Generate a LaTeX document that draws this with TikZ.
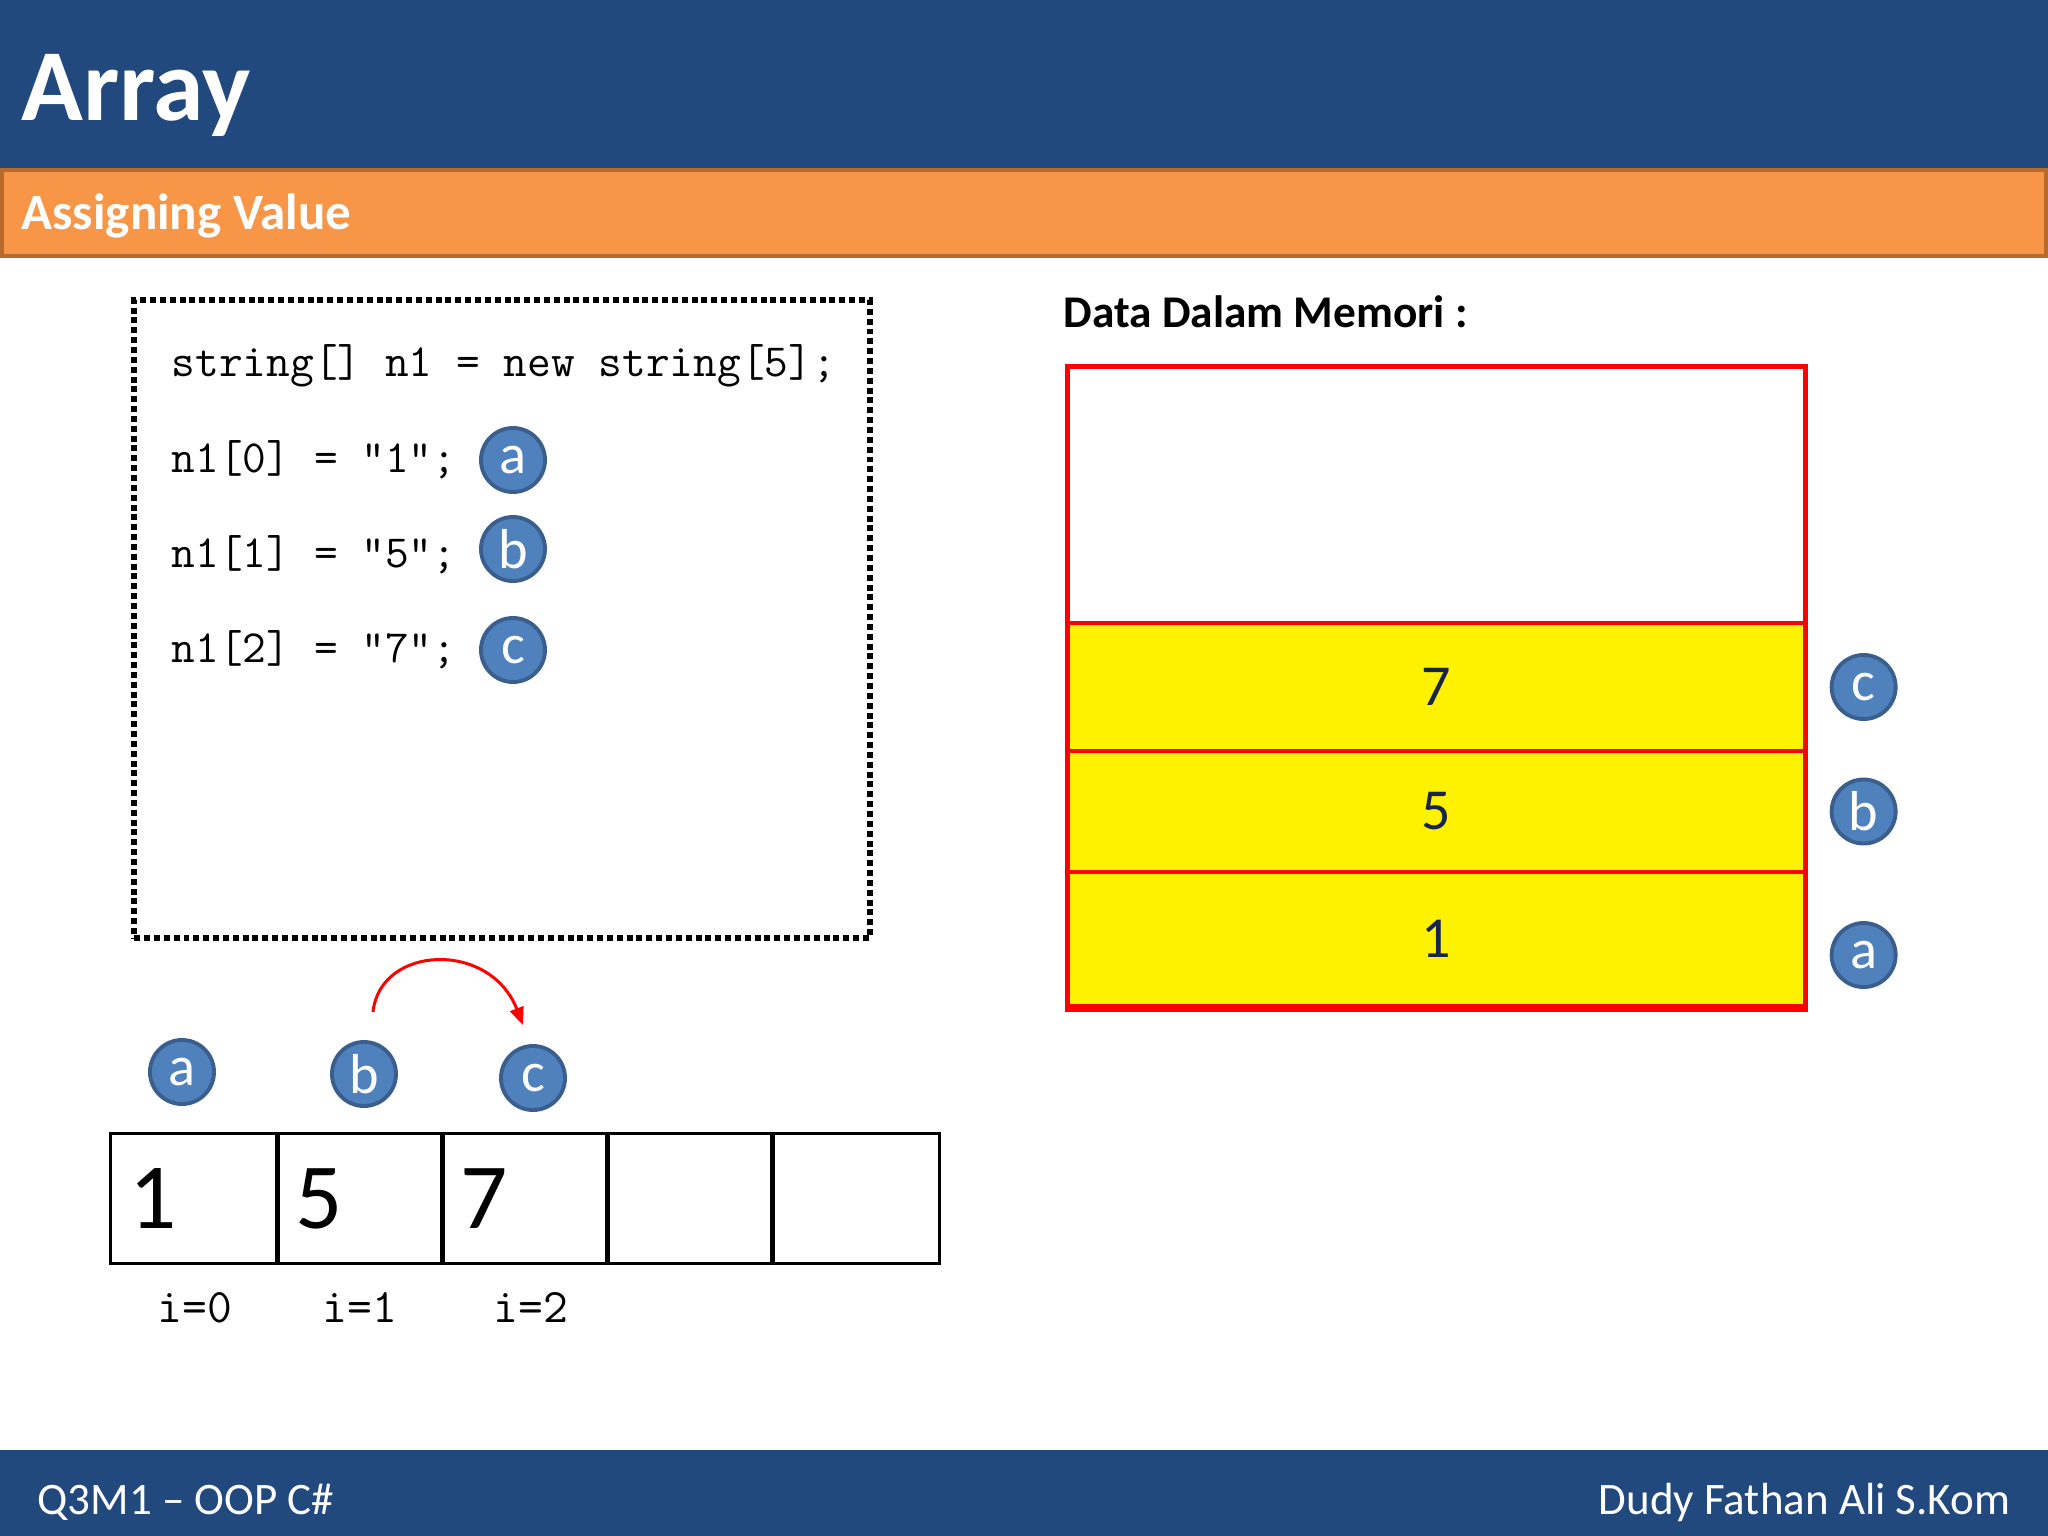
\documentclass[tikz,border=0pt]{standalone}
\usepackage{fontspec}
\setmainfont{Carlito}
\usetikzlibrary{positioning, arrows.meta}
\definecolor{slideblue}{HTML}{21497D}
\definecolor{bandorange}{HTML}{F79646}
\definecolor{bandedge}{HTML}{B8692C}
\definecolor{badgefill}{HTML}{4F81BD}
\definecolor{badgeedge}{HTML}{3A5F8E}
\definecolor{memtext}{HTML}{17254A}
\tikzstyle{heading} = [anchor=base west, inner sep=0pt, text=white]
\tikzstyle{badge} = [circle, minimum size=0.64cm, inner sep=0pt, draw=badgeedge, line width=1.1pt, fill=badgefill, text=white, font=\fontsize{16pt}{19pt}\selectfont]
\tikzstyle{codeline} = [anchor=west, inner sep=0pt, font=\ttfamily\fontsize{13.1pt}{15pt}\selectfont]
\tikzstyle{codeframe} = [rectangle, draw=black, line width=1.7pt, dash pattern=on 1.7pt off 1.1pt, minimum width=7.35cm, minimum height=6.38cm]
\tikzstyle{arraycell} = [rectangle, draw=black, line width=0.85pt, minimum height=1.29cm, text width=1.292cm, inner xsep=0.19cm, align=left, font=\fontsize{26.5pt}{30pt}\selectfont]
\tikzstyle{idxlabel} = [inner sep=0pt, font=\ttfamily\fontsize{13.7pt}{16pt}\selectfont]
\tikzstyle{memcell} = [rectangle, draw=red, line width=1.4pt, fill=yellow, minimum width=7.37cm, text=memtext, font=\fontsize{16.5pt}{20pt}\selectfont]
\tikzstyle{arrow} = [red, line width=0.85pt, -{Triangle[length=5pt,width=4pt]}]

\begin{document}
\begin{tikzpicture}[x=0.01cm, y=-0.01cm]
	\useasboundingbox (0,0) rectangle (2048,1536);
	\fill [slideblue] (0,0) rectangle (2048,168);
	\filldraw [fill=bandorange, draw=bandedge, line width=1.1pt] (2,170) rectangle (2046,256);
	\fill [slideblue] (0,1450) rectangle (2048,1536);
	\node (title) [heading, font=\bfseries\fontsize{29pt}{34pt}\selectfont] at (21,120) {Array};
	\node (subtitle) [heading, font=\bfseries\fontsize{14.5pt}{17pt}\selectfont] at (21,229) {Assigning Value};
	\node (course) [heading, font=\fontsize{12.8pt}{15pt}\selectfont] at (37,1514) {Q3M1 – OOP C\#};
	\node (author) [heading, anchor=base east, font=\fontsize{12.8pt}{15pt}\selectfont] at (2011,1514) {Dudy Fathan Ali S.Kom};

	\node (codebox) [codeframe] at (502,619) {};
	\node (codezero) [codeline] at (171,366) {string[] n1 = new string[5];};
	\node (codeone) [codeline] at (171,460) {n1[0] = “1”;};
	\node (codetwo) [codeline] at (171,555) {n1[1] = “5”;};
	\node (codethree) [codeline] at (171,650) {n1[2] = “7”;};
	\node (codea) [badge] at (513,460) {a};
	\node (codeb) [badge] at (513,549) {b};
	\node (codec) [badge] at (513,650) {c};

	\foreach \i/\v in {0/1,1/5,2/7,3/{},4/{}} {
		\node (cell\i) [arraycell] at (194.6+165.2*\i,1198.5) {\v};
	}
	\node (idx0) [idxlabel, below=0.27cm of cell0] {i=0};
	\node (idx1) [idxlabel, below=0.27cm of cell1] {i=1};
	\node (idx2) [idxlabel, below=0.27cm of cell2, xshift=0.06cm] {i=2};
	\node (arra) [badge] at (182,1072) {a};
	\node (arrb) [badge] at (364,1074) {b};
	\node (arrc) [badge] at (533,1078) {c};
	\coordinate (hopstart) at (373,1012);
	\coordinate (hopend) at (523,1025);
	\draw [arrow] (hopstart) .. controls (380,945) and (490,940) .. (hopend);

	\node (memtitle) [anchor=base west, inner sep=0pt, font=\bfseries\fontsize{12.9pt}{15pt}\selectfont] at (1063,327) {Data Dalam Memori :};
	\node (memfree) [memcell, fill=white, minimum height=2.56cm] at (1436.5,495) {};
	\node (mem7) [memcell, minimum height=1.28cm] at (1436.5,687) {7};
	\node (mem5) [memcell, minimum height=1.21cm] at (1436.5,811.5) {5};
	\node (mem1) [memcell, minimum height=1.34cm] at (1436.5,939) {1};
	\draw [red, line width=2.2pt] (mem1.south west) -- (mem1.south east);
	\node (memc) [badge, right=0.22cm of mem7] {c};
	\node (memb) [badge, right=0.22cm of mem5] {b};
	\node (mema) [badge, right=0.22cm of mem1, yshift=-0.16cm] {a};
\end{tikzpicture}
\end{document}
